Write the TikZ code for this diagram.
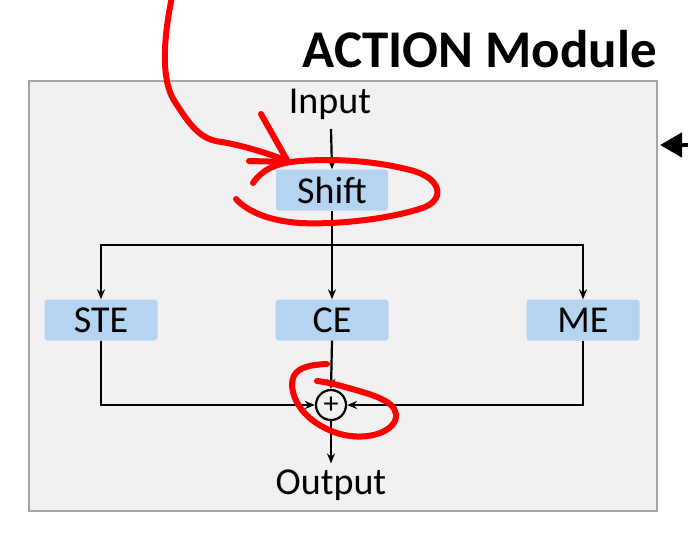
\documentclass[tikz,border=0pt]{standalone}
\usepackage{fontspec}
\setmainfont{Carlito}
\usetikzlibrary{arrows.meta}
\definecolor{panelbg}{HTML}{F2F0F1}
\definecolor{panelline}{HTML}{A6A6A6}
\definecolor{blockblue}{HTML}{B5D4F1}
\definecolor{penred}{HTML}{FF0000}
\tikzset{
  block/.style={fill=blockblue, rounded corners=3pt, minimum height=41pt, inner sep=0pt, font=\fontsize{38}{40}\selectfont},
  lbl/.style={inner sep=0pt, font=\fontsize{38}{40}\selectfont},
  conn/.style={line width=2.2pt, -{Stealth[length=10pt,width=8pt]}},
  pen/.style={draw=penred, line width=6pt, line cap=round, line join=round},
}
\begin{document}
\begin{tikzpicture}[x=1pt,y=-1pt]
\useasboundingbox (0,0) rectangle (688,539);
\fill[white] (0,0) rectangle (688,539);
% panel
\draw[fill=panelbg, draw=panelline, line width=2.4pt] (29,81) rectangle (657,511);
\node[anchor=base east, inner sep=0pt, font=\fontsize{53}{55}\bfseries\selectfont] (title) at (657,67) {ACTION Module};
% nodes
\node[lbl] (input) at (330,104) {Input};
\node[block, minimum width=112pt] (shift) at (332,190) {Shift};
\node[block, minimum width=113pt] (ste) at (101,320) {STE};
\node[block, minimum width=113pt] (ce) at (332,320) {CE};
\node[block, minimum width=113pt] (me) at (583,320) {ME};
\node[draw, circle, line width=2.2pt, minimum size=30pt, inner sep=0pt, font=\fontsize{30}{30}\selectfont] (sum) at (331,405) {+};
\node[lbl] (output) at (331,485) {Output};
\coordinate (split) at (332,245);
\coordinate (inend) at (331,129);
\coordinate (rin) at (688,145);
\coordinate (rtip) at (660,145);
% connectors
\draw[conn] (inend) -- (shift.north);
\draw[conn] (shift.south) -- (ce.north);
\draw[conn] (split) -| (ste.north);
\draw[conn] (split) -| (me.north);
\draw[conn] (ce.south) -- (sum.north);
\draw[conn] (ste.south) |- (sum.west);
\draw[conn] (me.south) |- (sum.east);
\draw[conn] (sum.south) -- ([yshift=6pt]output.north);
\draw[line width=4.5pt, -{Triangle[length=22pt,width=24pt]}] (rin) -- (rtip);
% red pen annotations
\draw[pen] (172,-3) .. controls (164,35) and (160,80) .. (175,102)
  .. controls (190,125) and (200,140) .. (222,142)
  .. controls (245,146) and (270,154) .. (287,161);
\draw[pen] (261,114) -- (287,160);
\draw[pen] (249,161) -- (288,162);
\draw[pen] (253,183) .. controls (262,170) and (275,163) .. (300,161)
  .. controls (340,158) and (380,162) .. (410,170)
  .. controls (440,177) and (446,198) .. (425,207)
  .. controls (395,218) and (340,225) .. (300,223)
  .. controls (270,221) and (248,212) .. (236,199);
\draw[pen] (327,364) .. controls (300,365) and (292,372) .. (292,385)
  .. controls (293,405) and (310,425) .. (340,434)
  .. controls (370,442) and (398,430) .. (396,414)
  .. controls (394,400) and (370,394) .. (345,387)
  .. controls (335,384) and (325,382) .. (317,381);
\end{tikzpicture}
\end{document}
